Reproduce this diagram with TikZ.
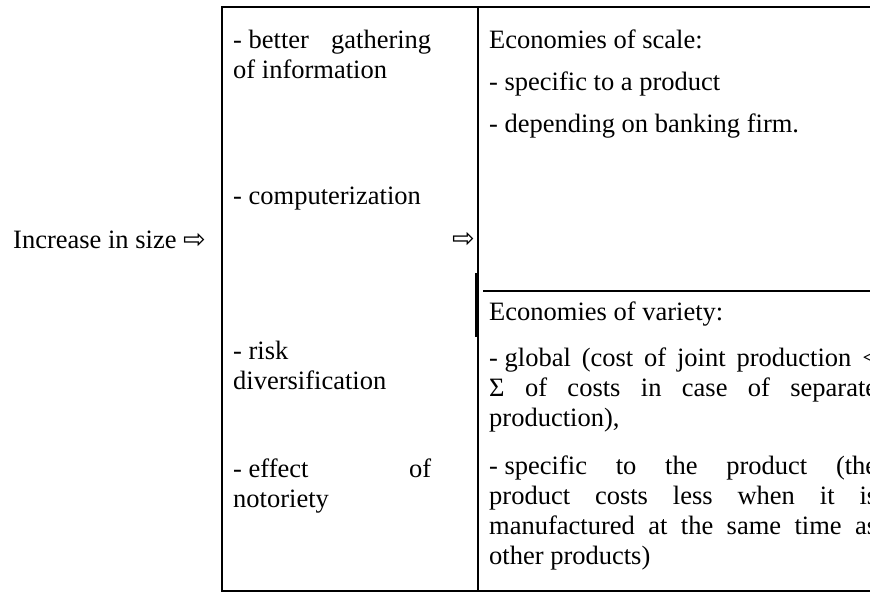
\documentclass[tikz,border=0pt]{standalone}
\usepackage{fontspec}
\setmainfont{Liberation Serif}
\newfontfamily\arrowfont{DejaVu Sans}

% white arrow and justified lines
\newcommand{\rarr}{{\arrowfont\fontsize{27}{27}\selectfont ⇨}}
\newcommand{\jline}[1]{{\spaceskip=0pt\xspaceskip=0pt\makebox[\linewidth][s]{#1}}}
\newcommand{\bul}{-\hspace{0.25em}}

\begin{document}
\begin{tikzpicture}[x=1pt,y=-1pt,line width=2.4pt,
    leftcol/.style={text width=198pt},
    rightcol/.style={text width=388pt}]
            \useasboundingbox (0,0) rectangle (870,592);
            \clip (0,0) rectangle (870,592);
            % table frame
            \draw (875,7) -- (222,7) -- (222,591) -- (875,591);
            \draw (478,7) -- (478,591);
            \draw[line width=3.6pt] (477,273) -- (477,337);
            \draw (483,291) -- (875,291);
            \begin{scope}[every node/.style={anchor=base west,inner sep=0pt,
                font=\fontsize{26.5}{30}\selectfont,
                execute at begin node={\spaceskip=0pt\xspaceskip=0pt}}]
                \node (size) at (12,248) {Increase in size \rarr};
                \node (gather) [leftcol] at (232,48) {\jline{\bul better\hfill gathering}\\of information};
                \node (comp) [leftcol] at (232,204) {\bul computerization};
                \node (mid) at (451,247) {\rarr};
                \node (risk) [leftcol] at (232,359) {\bul risk\\diversification};
                \node (fame) [leftcol] at (232,477) {\jline{\bul effect\hfill of}\\notoriety};
                \node (scale) [rightcol] at (488,48) {Economies of scale:};
                \node (sc1) [rightcol] at (488,90) {\bul specific to a product};
                \node (sc2) [rightcol] at (488,132) {\bul depending on banking firm.};
                \node (variety) [rightcol] at (488,320) {Economies of variety:};
                \node (va1) [rightcol] at (488,366) {\jline{\bul global (cost of joint production <}\\
                    \jline{Σ of costs in case of separate}\\production),};
                \node (va2) [rightcol] at (488,474) {\jline{\bul specific to the product (the}\\
                    \jline{product costs less when it is}\\
                    \jline{manufactured at the same time as}\\other products)};
            \end{scope}
        \end{tikzpicture}
\end{document}
